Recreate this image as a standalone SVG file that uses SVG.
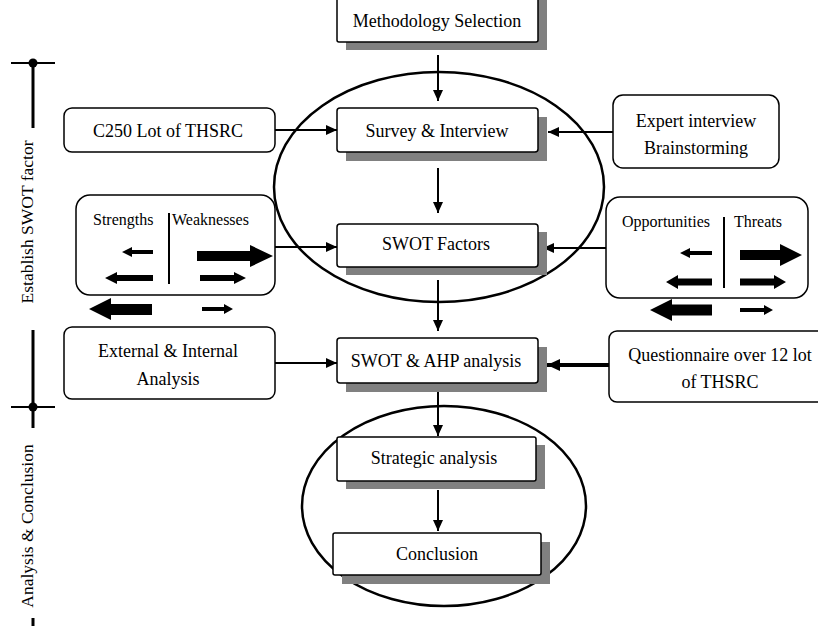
<svg xmlns="http://www.w3.org/2000/svg" width="818" height="626" viewBox="0 0 818 626">
  <style>
    .t { font-family: "Liberation Serif", "Times New Roman", serif; font-size: 18px; fill: #000; text-anchor: middle; }
    .s { font-family: "Liberation Serif", "Times New Roman", serif; font-size: 16px; fill: #000; }
    .v { font-family: "Liberation Serif", "Times New Roman", serif; font-size: 17.5px; fill: #000; text-anchor: middle; }
    .box { fill: #fff; stroke: #000; stroke-width: 1.5; }
    .shadow { fill: #808080; }
    .rbox { fill: #fff; stroke: #000; stroke-width: 1.5; }
    .ring { fill: none; stroke: #000; stroke-width: 2.5; }
    .conn { fill: none; stroke: #000; stroke-width: 2; }
    .thick { fill: none; stroke: #000; stroke-width: 4; }
    .axis { stroke: #000; stroke-width: 3; }
    .tick { stroke: #000; stroke-width: 2; }
    .blk { fill: #000; }
  </style>
  <defs>
    <marker id="ah" markerUnits="userSpaceOnUse" markerWidth="11" markerHeight="10" refX="11" refY="5" orient="auto">
      <path d="M0,0 L11,5 L0,10 z" fill="#000"/>
    </marker>
    <marker id="ahBig" markerUnits="userSpaceOnUse" markerWidth="13" markerHeight="12" refX="13" refY="6" orient="auto">
      <path d="M0,0 L13,6 L0,12 z" fill="#000"/>
    </marker>
  </defs>
  <rect width="818" height="626" fill="#fff"/>

  <!-- phase axis on the left -->
  <g id="phase-axis">
    <line class="axis" x1="33" y1="63" x2="33" y2="128"/>
    <line class="tick" x1="11" y1="63" x2="55" y2="63"/>
    <circle cx="33" cy="63" r="4.5" class="blk"/>
    <text class="v" transform="translate(33,222) rotate(-90)">Establish SWOT factor</text>
    <line class="axis" x1="33" y1="330" x2="33" y2="428"/>
    <line class="tick" x1="11" y1="407" x2="55" y2="407"/>
    <circle cx="33" cy="407" r="4.5" class="blk"/>
    <text class="v" transform="translate(33,526) rotate(-90)">Analysis &amp; Conclusion</text>
    <line class="axis" x1="33" y1="618" x2="33" y2="626"/>
  </g>

  <!-- grouping ellipses -->
  <g id="stage-rings">
    <ellipse class="ring" cx="439" cy="187" rx="165" ry="115"/>
    <ellipse class="ring" cx="444" cy="506" rx="142" ry="100"/>
  </g>

  <!-- connectors -->
  <g id="connectors">
    <line class="conn" x1="438" y1="55" x2="438" y2="101" marker-end="url(#ah)"/>
    <line class="conn" x1="438" y1="168" x2="438" y2="213" marker-end="url(#ah)"/>
    <line class="conn" x1="438" y1="280" x2="438" y2="331" marker-end="url(#ah)"/>
    <line class="conn" x1="438" y1="392" x2="438" y2="436" marker-end="url(#ah)"/>
    <line class="conn" x1="438" y1="490" x2="438" y2="531" marker-end="url(#ah)"/>
    <line class="conn" x1="275" y1="130" x2="337" y2="130" marker-end="url(#ah)"/>
    <line class="conn" x1="613" y1="132" x2="548" y2="132" marker-end="url(#ah)"/>
    <line class="conn" x1="275" y1="247" x2="337" y2="247" marker-end="url(#ah)"/>
    <line class="conn" x1="606" y1="248" x2="543" y2="248" marker-end="url(#ah)"/>
    <line class="conn" x1="275" y1="363" x2="337" y2="363" marker-end="url(#ah)"/>
    <line class="thick" x1="609" y1="365" x2="547" y2="365" marker-end="url(#ahBig)"/>
  </g>

  <!-- central process boxes -->
  <g id="methodology-selection">
    <rect class="shadow" x="346" y="-10" width="201" height="60"/>
    <rect class="box" x="337" y="-12" width="201" height="54" rx="2"/>
    <text class="t" x="437" y="27">Methodology Selection</text>
  </g>
  <g id="survey-interview">
    <rect class="shadow" x="346" y="117" width="201" height="44"/>
    <rect class="box" x="337" y="108" width="201" height="44" rx="3"/>
    <text class="t" x="437" y="137">Survey &amp; Interview</text>
  </g>
  <g id="swot-factors">
    <rect class="shadow" x="346" y="232" width="201" height="43"/>
    <rect class="box" x="337" y="224" width="201" height="43" rx="3"/>
    <text class="t" x="436" y="250">SWOT Factors</text>
  </g>
  <g id="swot-ahp-analysis">
    <rect class="shadow" x="346" y="347" width="201" height="45"/>
    <rect class="box" x="337" y="338" width="201" height="45" rx="3"/>
    <text class="t" x="436" y="367">SWOT &amp; AHP analysis</text>
  </g>
  <g id="strategic-analysis">
    <rect class="shadow" x="346" y="445" width="199" height="44"/>
    <rect class="box" x="337" y="437" width="199" height="44" rx="2"/>
    <text class="t" x="434" y="464">Strategic analysis</text>
  </g>
  <g id="conclusion">
    <rect class="shadow" x="342" y="542" width="208" height="42"/>
    <rect class="box" x="333" y="533" width="208" height="42" rx="2"/>
    <text class="t" x="437" y="560">Conclusion</text>
  </g>

  <!-- input boxes, left -->
  <g id="c250-lot">
    <rect class="rbox" x="64" y="108" width="211" height="44" rx="8"/>
    <text class="t" x="168" y="137">C250 Lot of THSRC</text>
  </g>
  <g id="strengths-weaknesses">
    <rect class="rbox" x="76" y="195" width="199" height="100" rx="14"/>
    <line class="tick" x1="169" y1="213" x2="169" y2="284" stroke-width="1.5"/>
    <text class="s" x="93" y="225">Strengths</text>
    <text class="s" x="172" y="225">Weaknesses</text>
    <polygon class="blk" points="122,252 132,247 132,250 153,250 153,254 132,254 132,257"/>
    <polygon class="blk" points="105,278 117,272 117,275 153,275 153,281 117,281 117,284"/>
    <polygon class="blk" points="197,251 250,251 250,245 273,256 250,267 250,261 197,261"/>
    <polygon class="blk" points="200,275 234,275 234,272 246,278 234,284 234,281 200,281"/>
    <polygon class="blk" points="89,309 111,298 111,304 152,304 152,315 111,315 111,320"/>
    <polygon class="blk" points="202,307 224,307 224,304 233,309 224,314 224,311 202,311"/>
  </g>
  <g id="external-internal">
    <rect class="rbox" x="64" y="327" width="211" height="72" rx="8"/>
    <text class="t" x="168" y="357">External &amp; Internal</text>
    <text class="t" x="168" y="385">Analysis</text>
  </g>

  <!-- input boxes, right -->
  <g id="expert-interview">
    <rect class="rbox" x="613" y="95" width="166" height="73" rx="10"/>
    <text class="t" x="696" y="127">Expert interview</text>
    <text class="t" x="696" y="154">Brainstorming</text>
  </g>
  <g id="opportunities-threats">
    <rect class="rbox" x="606" y="197" width="202" height="101" rx="14"/>
    <line class="tick" x1="724" y1="217" x2="724" y2="288" stroke-width="1.5"/>
    <text class="s" x="622" y="227">Opportunities</text>
    <text class="s" x="734" y="227">Threats</text>
    <polygon class="blk" points="680,253 690,248 690,251 712,251 712,255 690,255 690,258"/>
    <polygon class="blk" points="666,282 678,275 678,278.5 712,278.5 712,285.5 678,285.5 678,289"/>
    <polygon class="blk" points="740,250 780,250 780,244 802,255 780,266 780,260 740,260"/>
    <polygon class="blk" points="740,278.5 774,278.5 774,275 786,282 774,289 774,285.5 740,285.5"/>
    <polygon class="blk" points="650,310 672,299 672,304.5 712,304.5 712,315.5 672,315.5 672,321"/>
    <polygon class="blk" points="740,308 764,308 764,305 773,310 764,315 764,312 740,312"/>
  </g>
  <g id="questionnaire">
    <rect class="rbox" x="609" y="331" width="220" height="71" rx="8"/>
    <text class="t" x="720" y="361">Questionnaire over 12 lot</text>
    <text class="t" x="720" y="388">of THSRC</text>
  </g>
</svg>
